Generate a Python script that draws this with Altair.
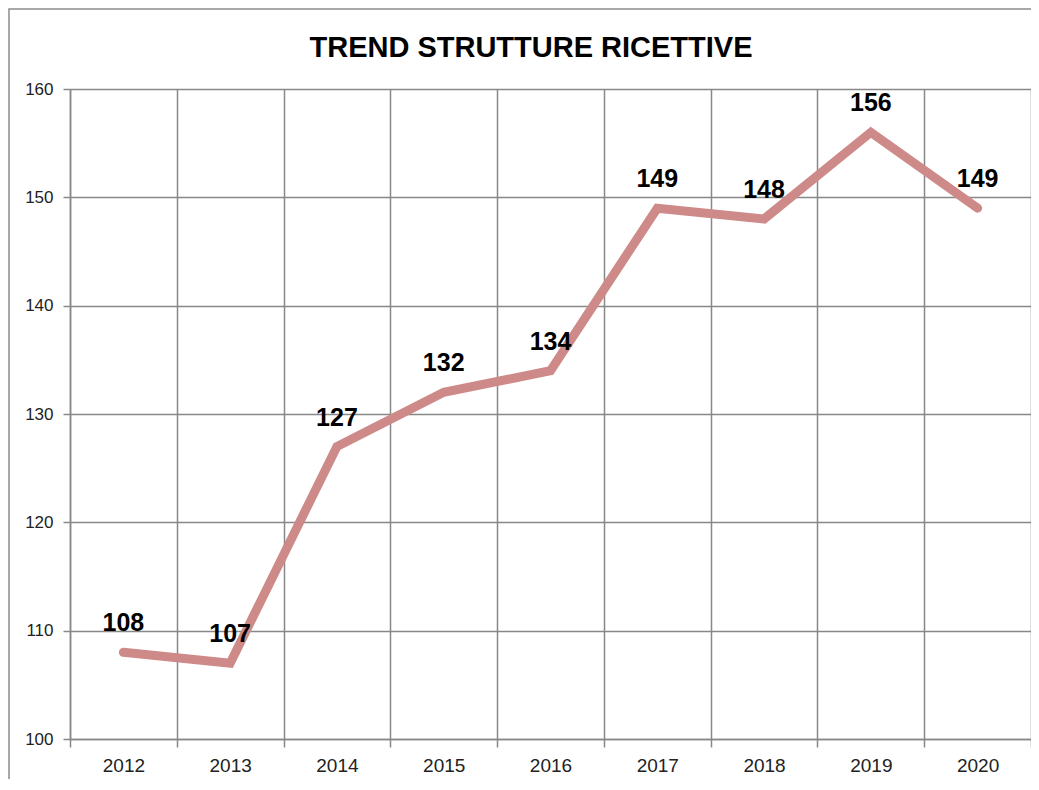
import altair as alt
import pandas as pd

years = ["2012", "2013", "2014", "2015", "2016", "2017", "2018", "2019", "2020"]
values = [108, 107, 127, 132, 134, 149, 148, 156, 149]
title_text = "TREND STRUTTURE RICETTIVE"

df = pd.DataFrame({"year": years, "value": values})

GRID = "#888888"
SANS = "Liberation Sans"

x_enc = alt.X(
    "year:O",
    bandPosition=0.5,
    scale=alt.Scale(type="band", paddingInner=0, paddingOuter=0),
    axis=alt.Axis(
        title=None, tickBand="extent", grid=True, gridColor=GRID, gridWidth=1.5,
        tickColor=GRID, tickWidth=1.5, tickSize=8, domainColor=GRID, domainWidth=1.5,
        labelFont=SANS, labelFontSize=19, labelColor="#222222", labelPadding=9,
        labelAngle=0,
    ),
)
y_enc = alt.Y(
    "value:Q",
    scale=alt.Scale(domain=[100, 160], nice=False, zero=False),
    axis=alt.Axis(
        title=None, values=[100, 110, 120, 130, 140, 150, 160], grid=True,
        gridColor=GRID, gridWidth=1.5, tickColor=GRID, tickWidth=1.5, tickSize=7,
        domainColor=GRID, domainWidth=1.5, labelFont=SANS,
        labelFontSize=17, labelColor="#222222", labelPadding=10,
    ),
)

base = alt.Chart(df)

line = base.mark_line(color="#CD8A88", strokeWidth=9, strokeCap="round", strokeJoin="miter").encode(
    x=x_enc, y=y_enc
)
labels = base.mark_text(
    font=SANS, fontSize=25, fontWeight="bold", color="#000000",
    baseline="alphabetic", align="center", dy=-21,
).encode(x=x_enc, y=y_enc, text="value:Q")

frame = alt.Chart(pd.DataFrame({"a": [0]})).mark_rect(
    fill=None, stroke="#8c8c8c", strokeWidth=1.5, clip=False
).encode(
    x=alt.value(-61), x2=alt.value(1000), y=alt.value(-80), y2=alt.value(760)
)

title = alt.Chart(pd.DataFrame({"t": [title_text]})).mark_text(
    font=SANS, fontSize=29, fontWeight="bold", color="#000000",
    align="center", baseline="alphabetic", clip=False,
).encode(x=alt.value(461), y=alt.value(-32), text="t:N")

chart = alt.layer(line, labels, frame, title).properties(
    width=961,
    height=650,
    autosize=alt.AutoSizeParams(type="none"),
    padding={"left": 62, "top": 81, "right": 0, "bottom": 40},
).configure_view(stroke=GRID, strokeWidth=1.5).configure(background="white")

chart.save("out.html", embed_options={"renderer": "svg", "actions": False})
